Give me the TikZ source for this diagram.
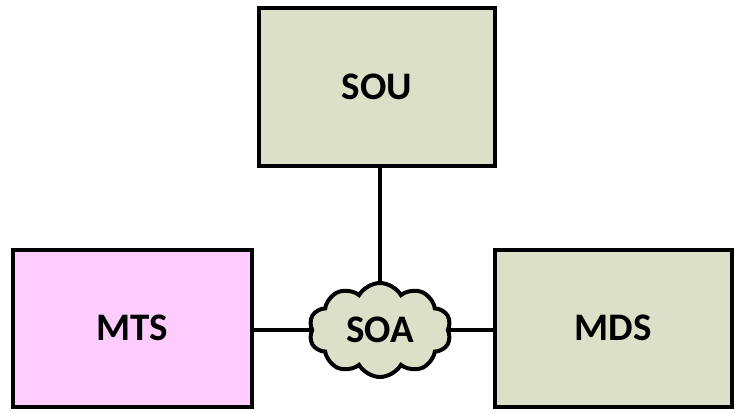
\documentclass[tikz,border=0pt]{standalone}
\usepackage{fontspec}
\setmainfont{Carlito}
\usetikzlibrary{positioning, shapes.symbols}
\definecolor{boxgrey}{RGB}{221,224,201}
\definecolor{boxpink}{RGB}{255,204,255}

\begin{document}
\begin{tikzpicture}[x=1pt, y=1pt,
    unit/.style={draw=black, line width=4pt, minimum width=236pt, minimum height=157pt,
        font=\fontsize{39}{44}\selectfont\bfseries, inner sep=0pt},
    link/.style={line width=3.2pt}]
    \useasboundingbox (0,0) rectangle (735,413);

    % Service units
    \node[unit, fill=boxgrey] (sou) at (377,326) {SOU};
    \node[unit, fill=boxpink, minimum width=239pt] (mts) at (132.5,85) {MTS};
    \node[unit, fill=boxgrey, minimum width=237pt] (mds) at (613,85) {MDS};

    % Architecture cloud
    \node[cloud, cloud puffs=10, cloud puff arc=120, aspect=1.5, draw=black, line width=4pt,
        fill=boxgrey, minimum width=142pt, minimum height=94pt, inner sep=0pt,
        font=\fontsize{39}{44}\selectfont\bfseries] (soa) at (380,83) {SOA};

    % Links
    \draw[link] (sou.south -| soa.north) -- (soa.north);
    \draw[link] (mts.east |- soa.west) -- (soa.west);
    \draw[link] (soa.east) -- (mds.west |- soa.east);
\end{tikzpicture}
\end{document}
